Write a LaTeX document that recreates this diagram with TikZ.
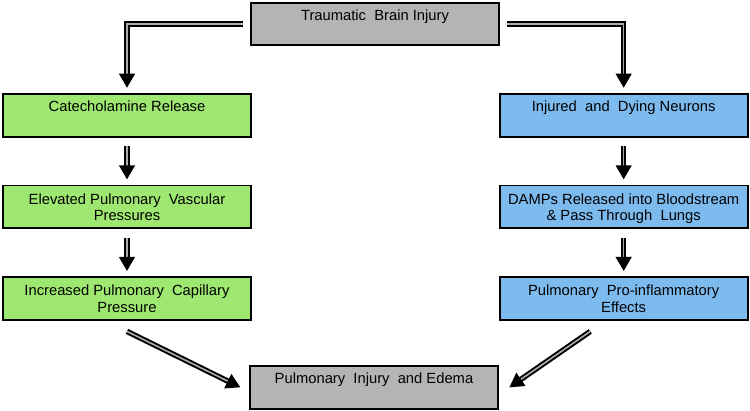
\documentclass[tikz,border=0pt]{standalone}
\usepackage{fontspec}
\setmainfont{Liberation Sans}
\usetikzlibrary{positioning, arrows.meta}
\definecolor{mygreen}{RGB}{158,231,112}
\definecolor{myblue}{RGB}{125,186,238}
\definecolor{mygray}{RGB}{180,180,180}

\begin{document}
\begin{tikzpicture}[x=0.02cm, y=-0.02cm, node distance=0.94cm,
  box/.style={draw, line width=1pt, align=center, minimum width=4.96cm, inner xsep=0pt, inner ysep=0pt, text height=10pt, text depth=14.4pt, font=\fontsize{8.4}{9.3}\selectfont},
  twoline/.style={text height=19.9pt, text depth=4.5pt},
  dbl/.style={double=gray!65, double distance=0.9pt, line width=1.1pt, -{Triangle[width=9pt,length=8pt]}}]
  \useasboundingbox (0,0) rectangle (750,410);

  % nodes
  \node [box, fill = mygray, text depth = 13.8pt, anchor = north] (tbi) at (375,2) {Traumatic\ \ Brain Injury};

  \node [box, fill = mygreen, anchor = north] (cat) at (127,93) {Catecholamine Release};
  \node [box, twoline, fill = mygreen][below = of cat] (elev) {Elevated Pulmonary\ \ Vascular\\Pressures};
  \node [box, twoline, fill = mygreen][below = of elev] (incr) {Increased Pulmonary\ \ Capillary\\Pressure};

  \node [box, fill = myblue][right = 4.94cm of cat] (neur) {Injured\ \ and\ \ Dying Neurons};
  \node [box, twoline, fill = myblue][below = of neur] (damp) {DAMPs Released into Bloodstream\\\&\ Pass Through\ \ Lungs};
  \node [box, twoline, fill = myblue][below = of damp] (proinf) {Pulmonary\ \ Pro-inflammatory\\Effects};

  \node [box, fill = mygray, anchor = north] (edema) at (374,365) {Pulmonary\ \ Injury\ \ and\ Edema};

  % edges
  \draw [dbl, shorten < = 4pt, shorten > = 3pt] (tbi.west) -| (cat.north);
  \draw [dbl, shorten < = 4pt, shorten > = 3pt] (tbi.east) -| (neur.north);
  \draw [dbl, shorten < = 5pt, shorten > = 3pt] (cat) -- (elev);
  \draw [dbl, shorten < = 5pt, shorten > = 3pt] (elev) -- (incr);
  \draw [dbl, shorten < = 5pt, shorten > = 3pt] (neur) -- (damp);
  \draw [dbl, shorten < = 5pt, shorten > = 3pt] (damp) -- (proinf);
  \draw [dbl] ([yshift = -6pt]incr.south) -- ([xshift = -5pt]edema.west);
  \draw [dbl] ([xshift = -19pt, yshift = -6pt]proinf.south) -- ([xshift = 6pt]edema.east);
\end{tikzpicture}
\end{document}
